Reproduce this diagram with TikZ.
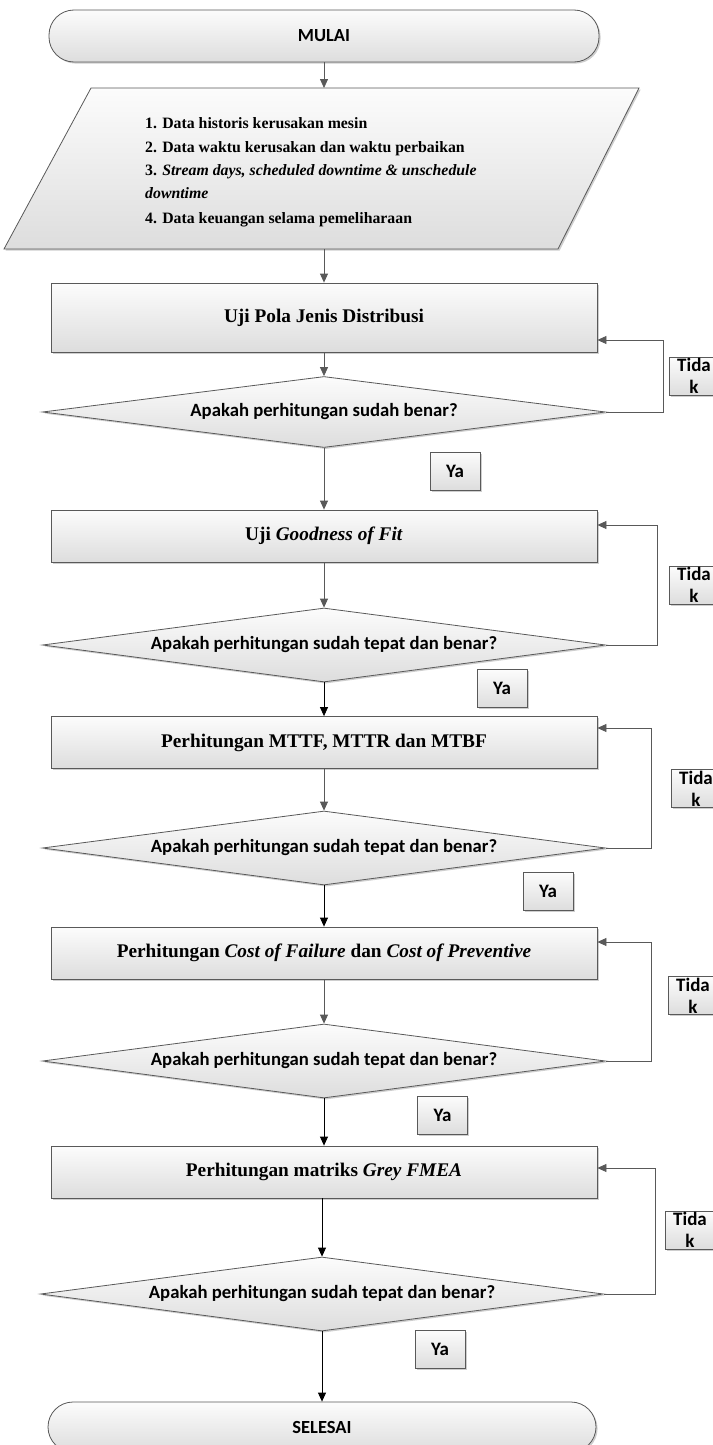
\documentclass[tikz,border=0pt]{standalone}
\usepackage{fontspec}
\setmainfont{Liberation Serif}
\newfontfamily\cbr{Carlito}
\usetikzlibrary{arrows.meta,shapes.geometric,shadows}
\definecolor{edge}{HTML}{595959}
\definecolor{shadetop}{HTML}{FCFCFC}
\definecolor{shadebot}{HTML}{DDDDDD}

\begin{document}
\begin{tikzpicture}[x=1pt,y=-1pt,
  shaded/.style={draw=edge, line width=0.8pt, top color=shadetop, bottom color=shadebot,
    drop shadow={shadow xshift=1.6pt, shadow yshift=-1.6pt, opacity=0.35, fill=black!55}},
  procbox/.style={shaded, rectangle, minimum width=546pt, minimum height=52pt, inner sep=0pt,
    font=\fontsize{19.3}{23}\selectfont\bfseries},
  decision/.style={shaded, diamond, minimum width=563pt, minimum height=74pt, inner sep=0pt},
  asklabel/.style={font=\cbr\bfseries\fontsize{18.7}{22}\selectfont, inner sep=0pt},
  terminal/.style={shaded, rectangle, rounded corners=25pt, minimum width=550pt, minimum height=52pt,
    inner sep=0pt, font=\cbr\bfseries\fontsize{18.5}{22}\selectfont},
  tag/.style={shaded, rectangle, minimum width=50pt, minimum height=38pt, inner sep=0pt,
    font=\cbr\bfseries\fontsize{19}{22}\selectfont},
  tidaktag/.style={tag, label={[font=\cbr\bfseries\fontsize{19}{22}\selectfont, align=center, inner sep=0pt]center:Tida\\k}},
  dataline/.style={anchor=base west, inner sep=0pt, font=\fontsize{15.8}{19}\selectfont\bfseries},
  flow/.style={draw=edge, line width=0.8pt, -{Triangle[length=9pt,width=8pt]}},
  flowdark/.style={flow, draw=black}]

\useasboundingbox (0,0) rectangle (712,1445);

% start
\node[terminal] (mulai) at (324,36) {MULAI};

% input data (parallelogram)
\path[shaded] (91,88) -- (639,88) -- (558,249) -- (4,249) -- cycle;
\coordinate (datatop) at (324,88);
\coordinate (databot) at (324,249);
\node[dataline] (p1) at (145,128) {1. Data historis kerusakan mesin};
\node[dataline] (p2) at (145,152) {2. Data waktu kerusakan dan waktu perbaikan};
\node[dataline] (p3) at (145,175) {3. \textit{Stream days, scheduled downtime \& unschedule}};
\node[dataline] (p4) at (145,198) {\textit{downtime}};
\node[dataline] (p5) at (145,223) {4. Data keuangan selama pemeliharaan};

% process steps and checks
\node[procbox, minimum height=69pt] (b1) at (324,317.5) {Uji Pola Jenis Distribusi};
\node[decision, minimum height=71pt, label={[asklabel]center:Apakah perhitungan sudah benar?}] (d1) at (324,412) {};

\node[procbox] (b2) at (324,536) {Uji \textit{Goodness of Fit}};
\node[decision, label={[asklabel]center:Apakah perhitungan sudah tepat dan benar?}] (d2) at (324,645) {};

\node[procbox] (b3) at (324,742.5) {Perhitungan MTTF, MTTR dan MTBF};
\node[decision, label={[asklabel]center:Apakah perhitungan sudah tepat dan benar?}] (d3) at (324,848) {};

\node[procbox] (b4) at (324,953) {Perhitungan \textit{Cost of Failure} dan \textit{Cost of Preventive}};
\node[decision, label={[asklabel]center:Apakah perhitungan sudah tepat dan benar?}] (d4) at (324,1061) {};

\node[procbox] (b5) at (324,1172) {Perhitungan matriks \textit{Grey FMEA}};
\node[decision, label={[asklabel]center:Apakah perhitungan sudah tepat dan benar?}] (d5) at (322,1294) {};

% end
\node[terminal, minimum width=548pt, minimum height=50pt] (selesai) at (322,1427) {SELESAI};

% "Ya" tags
\node[tag] (ya1) at (455,471) {Ya};
\node[tag] (ya2) at (502,688.5) {Ya};
\node[tag] (ya3) at (548,891.5) {Ya};
\node[tag] (ya4) at (442.5,1115) {Ya};
\node[tag] (ya5) at (440,1349) {Ya};

% "Tidak" tags
\node[tidaktag] (t1) at (694,376) {};
\node[tidaktag] (t2) at (694,585) {};
\node[tidaktag] (t3) at (696,788.5) {};
\node[tidaktag] (t4) at (693,995.5) {};
\node[tidaktag] (t5) at (690,1230) {};

% main flow
\draw[flow] (mulai.south) -- (datatop);
\draw[flow] (databot) -- (b1.north);
\draw[flow] (b1.south) -- (d1.north);
\draw[flow] (d1.south) -- (b2.north);
\draw[flow] (b2.south) -- (d2.north);
\draw[flowdark] (d2.south) -- (b3.north);
\draw[flow] (b3.south) -- (d3.north);
\draw[flowdark] (d3.south) -- (b4.north);
\draw[flow] (b4.south) -- (d4.north);
\draw[flowdark] (d4.south) -- (b5.north -| d4.south);
\draw[flowdark] (b5.south -| d5.north) -- (d5.north);
\draw[flowdark] (d5.south) -- (d5.south |- selesai.north);

% return loops
\coordinate (r1) at (663,340);
\coordinate (r2) at (657,525);
\coordinate (r3) at (651,728);
\coordinate (r4) at (651,942);
\coordinate (r5) at (655,1168);
\draw[flow] (d1.east) -| (r1) -- (b1.east |- r1);
\draw[flow] (d2.east) -| (r2) -- (b2.east |- r2);
\draw[flow] (d3.east) -| (r3) -- (b3.east |- r3);
\draw[flow] (d4.east) -| (r4) -- (b4.east |- r4);
\draw[flow] (d5.east) -| (r5) -- (b5.east |- r5);
\end{tikzpicture}
\end{document}
